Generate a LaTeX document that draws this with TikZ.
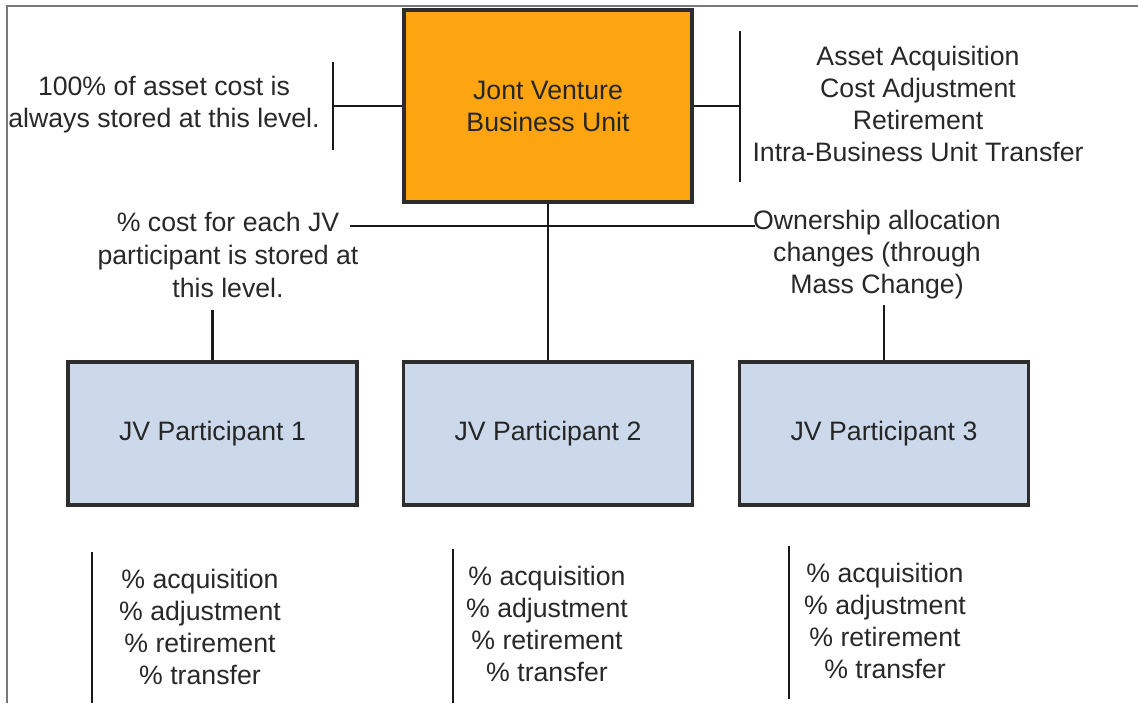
\documentclass[tikz,border=0pt]{standalone}
\usepackage{fontspec}
\setmainfont{Liberation Sans}
\definecolor{jvorange}{RGB}{253,164,17}
\definecolor{jvblue}{RGB}{204,217,235}
\definecolor{boxline}{RGB}{45,45,45}
\definecolor{txt}{RGB}{40,40,40}
\definecolor{frame}{RGB}{120,120,120}
\begin{document}
\begin{tikzpicture}[x=0.75pt,y=-0.75pt,
  bigbox/.style={draw=boxline,line width=2.4pt,fill=jvorange,minimum width=216pt,minimum height=144pt,inner sep=0pt,align=center,text=black!85,font=\fontsize{20}{24}\selectfont},
  partbox/.style={draw=boxline,line width=2.4pt,fill=jvblue,minimum width=216.75pt,minimum height=107.25pt,inner sep=0pt,align=center,text=black!85,font=\fontsize{20}{24}\selectfont},
  note/.style={align=center,inner sep=0pt,text=txt,font=\fontsize{20}{24}\selectfont},
  wide/.style={align=center,inner sep=0pt,text=txt,font=\fontsize{20}{25}\selectfont},
  conn/.style={draw=black!90,line width=2.1pt}]
\useasboundingbox (0,0) rectangle (1138,703);
% frame (top and left only)
\coordinate (fo) at (7,6);
\coordinate (ftr) at (1138,6);
\coordinate (fbl) at (7,703);
\draw[frame,line width=1pt] (fbl) -- (fo) -- (ftr);

% main boxes
\node[bigbox] (jv) at (548,106) {Jont Venture\\Business Unit};
\node[partbox] (p1) at (212.5,433.5) {JV Participant 1};
\node[partbox] (p2) at (548,433.5) {JV Participant 2};
\node[partbox] (p3) at (884,433.5) {JV Participant 3};

% top notes
\node[note] (lnote) at (164,105) {100\% of asset cost is\\always stored at this level.};
\node[note] (rnote) at (918,104) {Asset Acquisition\\Cost Adjustment\\Retirement\\Intra-Business Unit Transfer};

% left bracket
\coordinate (lb) at (333,106);
\coordinate (lbt) at (333,62);
\coordinate (lbb) at (333,150);
\draw[conn] (jv.west) -- (lb);
\draw[conn] (lbt) -- (lbb);
% right bracket
\coordinate (rb) at (740,106);
\coordinate (rbt) at (740,31);
\coordinate (rbb) at (740,182);
\draw[conn] (jv.east) -- (rb);
\draw[conn] (rbt) -- (rbb);

% middle notes
\node[wide] (cnote) at (228,255) {\% cost for each JV\\participant is stored at\\this level.};
\node[note] (onote) at (877,255) {Ownership allocation\\changes (through\\Mass Change)};

\coordinate (hl) at (350,226);
\coordinate (hr) at (755,226);
\draw[conn] (hl) -- (hr);
\draw[conn] (jv.south) -- (p2.north);
\coordinate (c1) at (212.5,310);
\draw[conn] (c1) -- (p1.north);
\coordinate (c3) at (884,305);
\draw[conn] (c3) -- (p3.north);

% bottom lists
\coordinate (b1t) at (92,552);
\coordinate (b1b) at (92,703);
\coordinate (b2t) at (453,549);
\coordinate (b2b) at (453,703);
\coordinate (b3t) at (789,546);
\coordinate (b3b) at (789,699);
\draw[conn] (b1t) -- (b1b);
\draw[conn] (b2t) -- (b2b);
\draw[conn] (b3t) -- (b3b);
\node[note] (l1) at (200,627) {\% acquisition\\\% adjustment\\\% retirement\\\% transfer};
\node[note] (l2) at (547,624) {\% acquisition\\\% adjustment\\\% retirement\\\% transfer};
\node[note] (l3) at (885,621) {\% acquisition\\\% adjustment\\\% retirement\\\% transfer};
\end{tikzpicture}
\end{document}
